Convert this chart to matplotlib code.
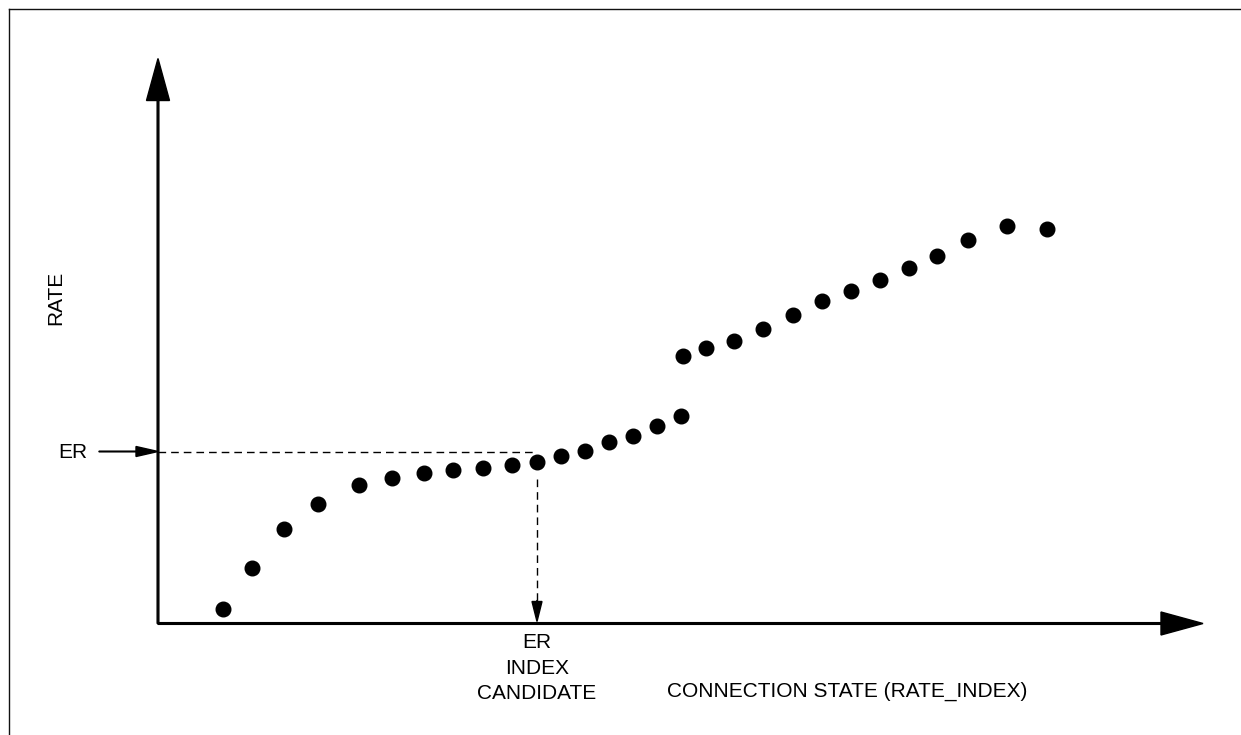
import matplotlib
matplotlib.use("Agg")
import matplotlib.pyplot as plt

plt.rcParams['font.family'] = ['Liberation Sans', 'DejaVu Sans']

# connection state (horizontal position) and rate of each candidate point
state = [6.5, 9.4, 12.6, 16.0, 20.1, 23.4, 26.6, 29.5, 32.5, 35.4,
         37.9, 40.3, 42.7, 45.1, 47.5, 49.9, 52.3, 52.5, 54.8, 57.6,
         60.5, 63.5, 66.4, 69.3, 72.2, 75.1, 77.9, 81.0, 84.9, 88.9]
rate = [1.5, 5.6, 9.5, 12.0, 13.9, 14.6, 15.1, 15.4, 15.6, 15.9,
        16.2, 16.8, 17.3, 18.2, 18.8, 19.8, 20.8, 26.8, 27.6, 28.3,
        29.5, 30.9, 32.3, 33.3, 34.4, 35.6, 36.8, 38.4, 39.8, 39.5]

er_rate = 17.2        # ER level on the rate axis
er_index = 37.9       # ER index candidate on the state axis

fig = plt.figure(figsize=(12.41, 7.35), dpi=100)
ax = fig.add_axes([0, 0, 1, 1])
ax.set_xlim(-15.8, 108.3)
ax.set_ylim(-11.15, 62.35)
ax.axis('off')

# outer frame (only left and top edges fall inside the picture)
ax.plot([-14.9, -14.9], [-20, 61.5], color='#111111', lw=1.0, clip_on=False)
ax.plot([-14.9, 200], [61.5, 61.5], color='#111111', lw=1.0, clip_on=False)

# axes with big arrow heads
ax.arrow(0, 0, 0, 56.5, width=0.17, head_width=2.3, head_length=4.2,
         length_includes_head=True, color='black')
ax.arrow(0, 0, 104.5, 0, width=0.17, head_width=2.3, head_length=4.2,
         length_includes_head=True, color='black')

# data points
ax.plot(state, rate, 'o', color='black', markersize=10.5, zorder=5)

# ER level: dashed line and little arrow pointing at the axis
ax.plot([0, er_index - 0.3], [er_rate, er_rate], color='black', lw=1.0, dashes=(5.5, 3.6))
ax.arrow(-5.9, er_rate, 5.9, 0, width=0.07, head_width=1.0, head_length=2.2,
         length_includes_head=True, color='black')
ax.text(-8.5, er_rate - 0.15, 'ER', fontsize=15, ha='center', va='center')

# ER index candidate: dashed arrow down to the state axis
ax.plot([er_index, er_index], [14.5, 2.0], color='black', lw=1.0, dashes=(5.5, 3.6))
ax.arrow(er_index, 2.3, 0, -2.1, width=0.02, head_width=1.0, head_length=2.0,
         length_includes_head=True, color='black')
ax.text(er_index, -1.95, 'ER', fontsize=15, ha='center', va='center')
ax.text(er_index, -4.45, 'INDEX', fontsize=15, ha='center', va='center')
ax.text(er_index, -7.0, 'CANDIDATE', fontsize=15, ha='center', va='center')

# axis titles
ax.text(68.95, -6.75, 'CONNECTION STATE (RATE_INDEX)', fontsize=15, ha='center', va='center')
ax.text(-10.2, 32.55, 'RATE', fontsize=15, ha='center', va='center', rotation=90)

fig.savefig('out.png', dpi=100)
